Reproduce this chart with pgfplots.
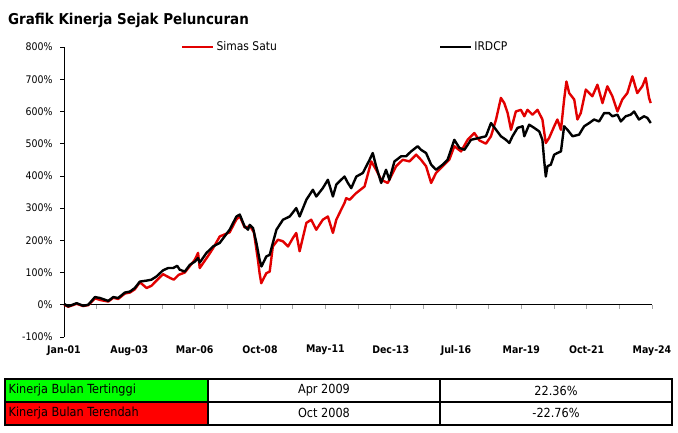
\documentclass[border=0pt]{standalone}
\usepackage{pgfplots}
\pgfplotsset{compat=1.18}
\usepackage{fontspec}
\setmainfont{DejaVu Sans Condensed}
\definecolor{lred}{RGB}{226,0,0}
\definecolor{cgreen}{RGB}{0,255,0}
\definecolor{cred}{RGB}{255,0,0}
\begin{document}
\begin{tikzpicture}
\path[use as bounding box] (0,0) rectangle (678bp,-433bp);
\node[anchor=west, inner sep=0pt, font=\fontsize{15}{17}\selectfont\bfseries] at (8bp,-20bp) {Grafik Kinerja Sejak Peluncuran};
\begin{axis}[
  at={(64bp,-337bp)}, anchor=south west,
  scale only axis, width=588bp, height=290bp,
  xmin=0, xmax=279, ymin=-100, ymax=800,
  axis x line=middle, axis y line=left,
  hide obscured x ticks=false, hide obscured y ticks=false,
  axis line style={-, black, line width=0.8bp},
  xtick={0,15.5,31,46.5,62,77.5,93,108.5,124,139.5,155,170.5,186,201.5,217,232.5,248,263.5,279},
  xticklabels={Jan-01,,Aug-03,,Mar-06,,Oct-08,,May-11,,Dec-13,,Jul-16,,Mar-19,,Oct-21,,May-24},
  ytick={-100,0,100,200,300,400,500,600,700,800},
  yticklabels={-100\%,0\%,100\%,200\%,300\%,400\%,500\%,600\%,700\%,800\%},
  tick align=outside, major tick length=4bp,
  xtick style={draw=gray!70, line width=0.6bp},
  ytick style={draw=black, line width=0.6bp},
  xticklabel style={font=\fontsize{10.5}{12}\selectfont\bfseries, yshift=-33bp},
  yticklabel style={font=\fontsize{10.5}{12}\selectfont, xshift=-4bp},
  legend style={at={(axis description cs:0.199,1.0)}, anchor=west, draw=none, fill=none, inner sep=0pt,
    legend columns=2, font=\fontsize{12}{14}\selectfont,
    /tikz/every even column/.append style={column sep=160bp}},
  legend image code/.code={\draw[#1] (0bp,0bp) -- (31bp,0bp);},
  clip=false,
]
\addplot[lred, line width=2.4bp, line join=round] coordinates {
(0,0) (2.0,-6) (6.0,3) (9.1,-4) (11.5,-1) (14.7,20) (17.1,15) (21.0,10) (23.4,22) (25.7,18)
(28.9,35) (31.3,38) (33.6,48) (36.0,70) (39.2,52) (41.5,59) (43.9,75) (47.0,95) (50.4,83) (52.1,78)
(54.4,93) (57.3,100) (59.7,120) (62.1,140) (63.6,161) (64.4,114) (68.2,150) (70.7,175) (73.9,212) (78.6,225)
(81.8,265) (83.4,275) (85.7,240) (88.4,243) (90.1,225) (92.0,140) (92.8,98) (93.6,67) (96.0,98) (97.6,103)
(99.1,181) (101.5,202) (103.9,197) (106.3,181) (108.6,207) (110.2,223) (111.8,166) (115.0,254) (117.3,264) (119.7,233)
(122.8,264) (125.2,274) (127.6,223) (129.2,264) (131.5,295) (133.1,316) (133.9,331) (135.5,326) (138.7,347) (142.6,367)
(145.8,445) (148.1,419) (150.5,388) (153.6,378) (157.6,430) (160.7,450) (163.9,445) (167.1,466) (169.4,450) (171.8,430)
(174.2,378) (176.5,409) (179.7,430) (182.8,450) (185.2,492) (188.4,476) (191.5,512) (194.7,533) (197.1,510) (200.2,500)
(202.6,523) (205.0,575) (207.3,642) (208.9,626) (210.5,595) (212.1,543) (214.4,600) (216.8,605) (218.4,585) (219.9,605)
(222.3,590) (224.7,605) (227.0,575) (228.6,502) (230.2,518) (232.6,554) (234.1,575) (235.8,543) (237.3,637) (238.4,693)
(239.7,657) (242.1,637) (243.6,575) (245.2,595) (247.6,668) (250.7,647) (253.1,683) (255.5,626) (257.8,678) (260.2,647)
(262.6,600) (264.9,637) (267.3,657) (269.7,709) (272.0,657) (274.4,678) (276.0,704) (277.6,642) (278.4,626)
};
\addlegendentry{Simas Satu}
\addplot[black, line width=2.4bp, line join=round] coordinates {
(0,3) (2.0,-5) (6.0,5) (9.1,-3) (11.5,0) (14.7,24) (17.1,21) (21.0,12) (23.4,24) (25.7,21)
(28.9,38) (31.3,41) (33.6,52) (36.0,72) (39.2,75) (41.5,78) (43.9,88) (47.0,107) (49.4,114) (51.8,114)
(53.7,121) (54.9,109) (57.3,103) (59.7,124) (62.1,134) (63.6,145) (64.4,131) (67.6,161) (69.2,171) (70.7,181)
(73.9,192) (78.6,233) (81.8,274) (83.4,280) (85.7,243) (87.3,233) (88.1,248) (89.7,238) (91.3,192) (92.8,140)
(93.7,119) (96.0,150) (97.6,155) (99.1,192) (100.8,233) (103.9,264) (107.1,274) (110.2,300) (111.8,274) (115.0,326)
(118.1,357) (119.7,336) (122.8,362) (125.2,388) (127.6,336) (129.2,373) (130.7,383) (133.1,398) (134.7,378) (136.3,362)
(138.7,398) (141.8,409) (145.0,450) (146.5,471) (148.1,430) (150.5,378) (152.8,419) (154.4,388) (156.8,445) (160.0,461)
(162.3,461) (164.7,476) (167.8,492) (169.4,481) (171.8,471) (174.2,435) (176.5,419) (179.7,435) (182.0,450) (185.2,512)
(187.6,487) (190.0,481) (193.1,512) (197.1,518) (200.2,523) (202.6,564) (205.0,543) (207.3,523) (209.7,512) (211.3,502)
(212.8,523) (215.2,549) (217.6,554) (218.4,523) (220.7,559) (223.1,549) (225.5,538) (227.0,512) (227.8,450) (228.6,398)
(229.4,430) (231.0,435) (232.6,466) (234.1,471) (235.8,476) (237.3,554) (238.9,543) (241.3,523) (244.4,528) (246.8,554)
(249.2,564) (251.5,575) (253.9,569) (256.3,595) (258.6,595) (260.2,585) (262.6,590) (264.2,569) (266.5,585) (268.9,590)
(270.5,600) (272.8,575) (275.2,585) (276.8,580) (278.4,564)
};
\addlegendentry{IRDCP}
\end{axis}
% table
\fill[cgreen] (5bp,-379.3bp) rectangle (208.3bp,-401.7bp);
\fill[cred] (5bp,-401.7bp) rectangle (208.3bp,-425bp);
\draw[line width=2bp] (5bp,-379.3bp) rectangle (672bp,-425bp);
\draw[line width=2bp] (5bp,-401.7bp) -- (672bp,-401.7bp);
\draw[line width=2bp] (208.3bp,-379.3bp) -- (208.3bp,-425bp);
\draw[line width=2bp] (440bp,-379.3bp) -- (440bp,-425bp);
\begin{scope}[every node/.style={inner sep=0pt, font=\fontsize{12.6}{14}\selectfont}]
\node[anchor=west] at (8.5bp,-390.5bp) {Kinerja Bulan Tertinggi};
\node[anchor=west] at (8.5bp,-413.3bp) {Kinerja Bulan Terendah};
\node at (324bp,-390.5bp) {Apr 2009};
\node at (324bp,-413.3bp) {Oct 2008};
\node at (556bp,-390.5bp) {22.36\%};
\node at (556bp,-413.3bp) {-22.76\%};
\end{scope}
\end{tikzpicture}
\end{document}
